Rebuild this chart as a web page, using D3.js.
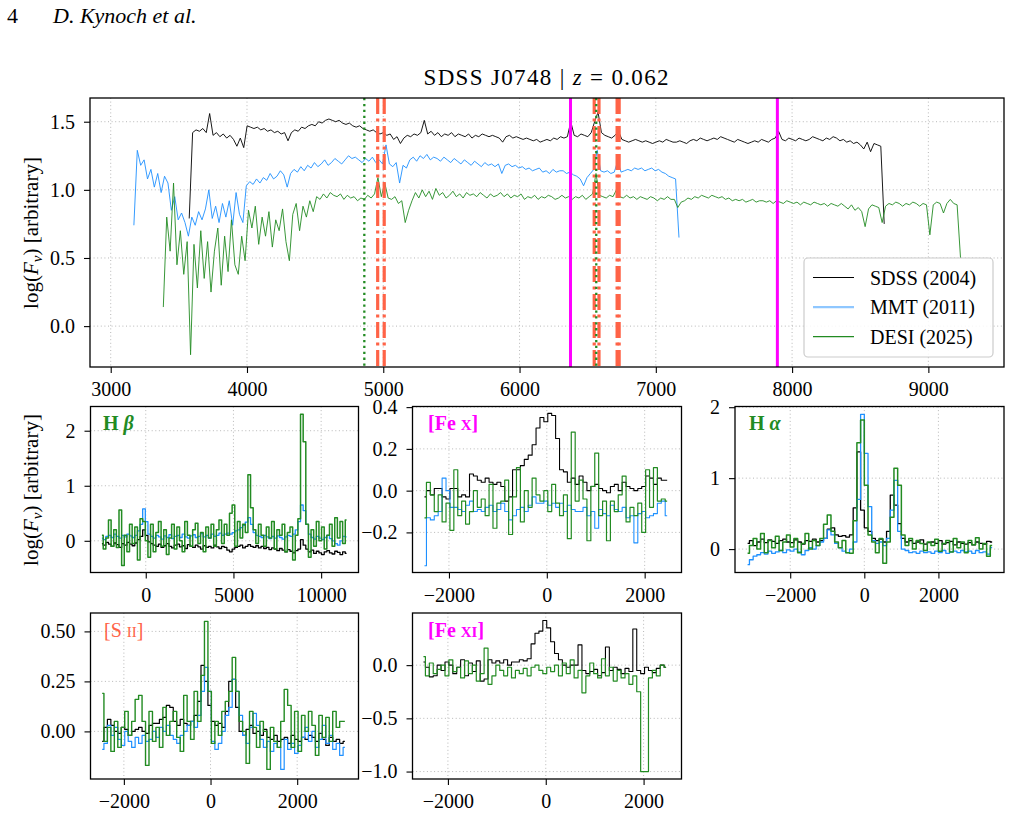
<!DOCTYPE html>
<html>
<head>
<meta charset="utf-8">
<script src="https://cdn.jsdelivr.net/npm/d3@7"></script>
<style>
body { margin: 0; background: #fff; }
text { font-family: "Liberation Serif", "Times New Roman", serif; fill: #000; }
</style>
</head>
<body>
<script>
// ---- main panel spectra (rest wavelength grid: start + step * index) ----
const sdssW0 = 3576, sdssDw = 25
const sdssFlux = [0.79,
  1.42,1.44,1.43,1.45,1.42, 1.56,
  1.40,1.42,1.39,1.41,1.38,1.40,1.37,1.32,1.38,1.31, 1.47,
  1.46,1.45,1.46,1.44,1.45,1.43,1.44,1.42,1.43,1.41,1.42,1.36,
  1.42,1.44,1.43,1.46,1.45,1.47,1.48,1.47,1.50,1.49,1.51,
  1.52,1.51,1.50,1.51,1.49,1.48,1.49,1.47,1.46,1.47,1.45,
  1.44,1.43,1.44,1.42,1.41,1.42,1.40,1.41,1.37, 1.39,1.34,
  1.38,1.40,1.39,1.41,1.40,1.42, 1.51,
  1.41,1.43,1.40,1.42,1.39,1.41,1.40,1.42,1.39,1.41,1.40,
  1.39,1.41,1.38,1.40,1.39,1.41,1.40,1.39,1.40,1.39,1.38,1.35,
  1.39,1.40,1.38,1.39,1.38,1.37,1.38,1.37,1.36,1.37,1.35,1.36,1.37,1.36,1.38,1.37,1.39,1.38,1.39,
  1.50, 1.40,1.39,1.41,1.40,1.39,1.42, 1.50,1.57,1.42, 1.40,1.39,1.38,1.40, 1.43,
  1.37,1.36,1.35,1.36,1.37,1.36,1.35,1.36,1.35,1.34,1.35,1.36,1.35,1.37,1.36,1.35,
  1.35,1.36,1.35,1.34,1.36,1.37,1.36,1.38,1.37,1.36,1.37,1.38,1.37,1.39,1.38,1.37,1.36,1.35,
  1.37,1.36,1.35,1.34,1.35,1.36,1.35,1.37,1.36,1.35,1.37,1.38, 1.43,
  1.37,1.36,1.38,1.37,1.36,1.38,1.37,1.36,1.37,1.39,1.38,1.37,1.36,1.38,1.37,1.39,1.38,1.36,1.37,1.35,
  1.36,1.34,1.35,1.33,1.30,1.35,1.28,1.34,1.33,1.32, 0.75]

const mmtW0 = 3170, mmtDw = 25
const mmtFlux = [0.74,
  1.29,1.18,1.22,1.08,1.15,1.02,1.12,0.98,1.1,1.05,
  0.85,0.95,0.78,0.83,0.76,0.66,0.8,0.74,0.84,
  0.78,0.86,1.0,0.79,0.88,0.76,0.9,0.8,0.92,0.74,0.98,0.82,0.76,
  1.03,
  1.06,1.04,1.08,1.05,1.09,1.07,1.12,1.08,1.1,1.14,1.11, 1.02,
  1.12,1.15,1.13,1.17,1.14,1.18,1.16,1.2,1.17,1.19,1.22,1.18,1.2,1.23,1.21,1.19,1.22,1.25,1.23,1.24,1.22,
  1.2,1.23,1.21,1.24,1.2,1.22,1.19, 1.33,
  1.19,1.17,1.2,1.05,1.18,1.16,
  1.22,1.24,1.21,1.25,1.23,1.26,1.22,1.24,
  1.23,1.21,1.24,1.22,1.2,1.23,1.21,1.19,1.22,1.2,1.18,1.21,1.19,1.17,1.2,1.18,1.19,1.17,1.19,
  1.12,
  1.18,1.19,1.17,1.18,1.16,1.17,1.15,1.16,1.14,1.15,1.16,1.13,1.14,1.12,1.15,1.13,1.14,
  1.14,1.12,1.13,1.11,1.1,1.08,1.03,1.09,1.12,1.15,
  1.29, 1.14,1.13,1.14,1.12,1.13, 1.21,
  1.13,1.14,1.15,1.14,1.16,1.15,1.16,1.14,1.15,1.16,1.14,1.15,1.13,1.12,1.1,
  1.09,1.08, 0.65]

const desiW0 = 3386, desiDw = 25
const desiFlux = [0.14,
  0.8,0.55,1.05,0.45,0.7,0.38,0.62, -0.21,
  0.6,0.28,0.7,0.35,0.62,0.25,0.55,0.72,0.3,0.66,0.4,0.78,0.45,0.38,0.66,0.48,
  0.85,0.72,0.88,0.6,0.8,0.66,0.84,0.58,0.78,0.7,
  0.86,0.62,0.48,0.82,0.9,0.7,0.88,0.8,0.92,0.84,
  0.95,0.93,0.97,0.94,0.98,0.96,0.95,0.97,0.93,0.96,0.94,0.95,0.92,0.94,
  0.93, 0.96,0.94,0.97,1.09,0.95,1.05,
  0.94,0.93,0.95,0.9,0.92,0.76,0.85,
  0.92,0.98,0.94,1.0,0.95,0.99,0.93,1.01,0.96,0.98,0.94,
  0.96,0.99,0.95,0.97,0.94,0.98,0.96,0.97,0.95,0.98,
  0.96,0.94,0.97,0.95,0.96,0.98,0.95,0.97,0.94,0.96,
  0.95,0.97,0.93,0.95,0.94,0.96,0.93,0.95,0.94,0.96,
  0.95,0.93,0.94,0.96,0.94,0.95,0.93,0.95,0.94,0.96,
  0.93,0.95,0.97,
  1.12, 0.96,0.95,0.94,0.96,0.95, 1.0,
  0.95,0.94,0.96,0.94,0.95,0.93,0.95,0.94,0.93,0.95,0.94,0.92,0.94,0.93,0.95,0.93,
  0.93,0.87,0.91,
  0.92,0.94,0.93,0.95,0.94,0.96,0.95,0.94,0.96,0.95,0.94,0.95,0.93,0.94,0.92,0.93,0.92,0.93,0.91,0.92,0.93,0.91,0.92,
  0.92,0.91,0.92,0.9,0.92,0.91,0.9,0.92,0.91,0.9,0.91,0.89,0.91,0.9,0.89,0.91,0.9,0.89,0.9,0.88,0.9,0.89,0.88,0.9,
  0.88,0.86,0.89,0.85,0.87,0.84,0.73,0.86,0.89,0.88,0.87, 0.76,
  0.88,0.9,0.89,0.91,0.9,0.88,0.9,0.89,0.91,0.9,0.88,0.9,0.89,0.67,0.89,0.91,0.9,0.83,0.9,0.93,0.9,0.89,
  0.5]

// emission line markers (rest wavelength, Angstrom)
const balmerLines = [4861, 6563]
const forbiddenLines = [4959, 5007, 6548, 6583, 6716, 6731]
const coronalLines = [6374, 7892]

const seriesNames = ["SDSS (2004)", "MMT (2011)", "DESI (2025)"]

// ---- zoomed line profiles (velocity grid: start + step * index, km/s) ----
const hbV0 = -2500, hbDv = 150
const hbSdss = [-0.05,-0.08,-0.03,-0.06,-0.1,-0.04,-0.07,-0.12,-0.05,-0.08,-0.03,-0.06,-0.09,-0.04,0.02,0.08,
  0.2,0.1,-0.02,
  -0.05,-0.08,-0.1,-0.06,-0.12,-0.09,-0.05,-0.1,-0.13,-0.08,-0.06,-0.11,-0.09,-0.14,-0.07,-0.1,-0.12,-0.08,-0.11,-0.15,-0.09,-0.12,-0.1,-0.13,-0.08,-0.11,-0.14,
  -0.1,-0.12,-0.17,-0.2,-0.15,-0.12,-0.1,-0.08,-0.13,-0.1,-0.07,-0.1,-0.12,-0.09,-0.13,
  -0.1,-0.14,-0.12,-0.16,-0.13,-0.15,-0.18,-0.14,-0.17,-0.2,-0.16,-0.19,-0.22,-0.18,-0.15,
  0.02,-0.08,
  -0.15,-0.2,-0.17,-0.23,-0.19,-0.22,-0.25,-0.2,-0.18,-0.22,-0.24,-0.19,-0.21,-0.25,-0.2,-0.23]
const hbMmt = [0.05,0.02,0.08,0.1,0.06,0.12,0.08,0.05,0.1,0.07,0.12,0.09,0.06,0.1,0.18,0.3,
  0.58,0.35,0.12,
  0.08,0.05,0.1,0.07,0.03,0.09,0.06,0.11,0.04,0.08,0.1,0.06,0.12,0.07,0.05,0.09,0.11,0.06,0.08,0.13,0.07,0.1,0.05,0.12,0.08,0.1,0.14,
  0.1,0.12,0.14,0.12,0.15,0.18,0.2,0.24,0.28,0.34,0.42,0.3,0.15,0.1,0.08,
  0.06,0.1,0.07,0.04,0.08,0.05,0.09,0.06,0.03,0.07,0.1,0.08,0.12,0.2,0.35,
  0.65,0.55,
  0.3,0.12,0.06,0.03,0.08,0.05,0.02,0.06,0.1,0.04,0.0,-0.05,-0.08,0.0,0.08,0.07]
const hbDesi = [0.1,-0.15,0.05,0.38,-0.1,0.2,-0.12,0.56,-0.45,0.1,-0.2,0.3,-0.05,0.25,-0.35,0.4,
  0.35,0.0,-0.3,
  0.3,-0.2,0.15,0.35,-0.1,0.2,-0.25,0.05,0.3,-0.15,0.25,0.0,-0.2,0.35,0.1,-0.1,0.2,0.32,-0.05,0.15,-0.2,0.25,0.05,0.3,-0.1,0.2,0.38,
  -0.05,0.3,0.1,0.5,0.65,-0.1,0.35,0.05,0.3,0.15,1.2,0.6,0.2,-0.05,0.3,
  0.1,-0.1,0.25,0.05,0.35,-0.15,0.2,0.1,0.3,-0.2,0.15,0.25,-0.35,0.1,0.4,
  2.3,1.8,
  0.3,-0.3,0.2,-0.1,0.35,0.0,0.25,-0.15,0.1,0.3,-0.1,0.42,0.05,0.35,-0.05,0.38]

const fexV0 = -2500, fexDv = 80
const fexSdss = [-0.03,0.0,-0.02,0.01,0.01,-0.03,-0.04,0.01,0.01,-0.03,
  -0.02,-0.03,0.08,0.07,0.05,0.04,0.06,0.04,0.03,0.04,
  0.02,-0.05,-0.03,0.1,0.1,0.12,0.15,0.17,0.22,0.3,
  0.35,0.33,0.37,0.36,0.25,0.1,0.09,0.04,0.06,0.03,
  0.07,0.04,0.0,0.02,0.03,0.01,0.0,-0.01,0.02,0.03,
  0.0,0.04,0.02,0.01,0.0,0.01,0.02,0.07,0.06,0.03,
  0.06,0.05,0.05]
const fexMmt = [-0.36,-0.13,-0.14,-0.12,-0.1,0.06,0.0,-0.08,-0.08,-0.09,
  -0.1,-0.07,-0.05,-0.1,-0.09,-0.1,-0.08,-0.07,-0.1,-0.09,
  -0.06,-0.1,-0.14,-0.12,-0.09,-0.08,-0.1,-0.07,-0.03,-0.06,
  -0.06,-0.05,-0.07,-0.06,-0.08,-0.06,-0.1,-0.07,-0.09,-0.1,
  -0.1,-0.08,-0.12,-0.1,-0.18,-0.09,-0.11,-0.12,-0.07,-0.09,
  -0.1,-0.08,-0.13,-0.12,-0.25,-0.11,-0.1,-0.13,-0.12,-0.11,
  -0.06,-0.05,-0.12]
const fexDesi = [-0.13,0.04,-0.02,-0.1,-0.02,-0.15,-0.06,-0.19,0.1,-0.12,
  -0.05,-0.16,-0.1,0.0,-0.08,-0.04,-0.12,0.03,-0.18,-0.06,
  -0.05,0.05,-0.21,-0.03,0.11,-0.15,0.0,-0.08,0.06,-0.02,
  -0.05,0.0,-0.1,0.03,-0.06,-0.12,-0.02,-0.23,0.28,-0.05,
  0.05,-0.04,-0.24,0.02,0.18,-0.12,-0.05,-0.24,-0.05,-0.1,
  -0.02,0.07,-0.15,-0.08,-0.12,-0.06,-0.2,0.1,-0.08,0.11,
  -0.05,-0.04,-0.05]

const haV0 = -3150, haDv = 100
const haSdss = [0.08,0.12,0.05,0.1,0.14,0.09,0.13,0.11,0.08,0.12,
  0.14,0.1,0.09,0.13,0.1,0.07,0.12,0.11,0.14,0.1,
  0.12,0.15,0.28,0.3,0.2,0.18,0.19,0.17,0.2,0.58,
  1.37,0.55,0.3,0.25,0.15,0.12,0.14,0.1,0.25,0.76,
  0.62,0.36,0.15,0.1,0.12,0.08,0.1,0.13,0.07,0.09,
  0.1,0.08,0.12,0.07,0.09,0.11,0.06,0.1,0.08,0.07,
  0.09,0.06,0.1,0.08,0.07,0.11,0.1]
const haMmt = [-0.22,-0.15,-0.1,-0.08,-0.05,-0.07,-0.03,-0.06,-0.04,-0.02,
  -0.05,-0.01,-0.03,0.0,-0.04,-0.08,-0.02,0.02,0.0,0.05,
  0.1,0.15,0.27,0.2,0.08,0.02,-0.03,-0.05,0.0,0.1,
  0.7,1.9,1.35,0.6,0.12,0.08,0.1,0.05,0.15,0.55,
  0.97,0.25,0.0,-0.02,-0.05,-0.04,-0.06,-0.03,-0.05,-0.04,
  -0.06,-0.03,-0.05,-0.02,-0.06,-0.04,-0.03,-0.05,-0.02,-0.04,
  -0.03,-0.06,-0.02,-0.05,-0.04,-0.07,0.02]
const haDesi = [-0.06,0.05,0.15,0.0,0.22,-0.05,0.12,0.02,0.18,-0.02,
  0.1,0.2,0.03,0.15,-0.05,0.08,0.22,0.0,0.12,0.05,
  0.15,0.35,0.48,0.25,0.1,0.02,0.12,-0.05,-0.06,0.4,
  1.5,1.82,0.9,0.2,0.1,-0.05,0.15,-0.2,0.1,0.45,
  1.14,0.9,0.2,0.05,0.15,0.0,0.12,0.08,-0.02,0.1,
  0.05,0.14,-0.03,0.08,0.12,-0.04,0.15,0.02,0.1,-0.05,
  0.12,0.06,0.16,0.0,0.08,-0.1,0.05]

const siiV0 = -2500, siiDv = 80
const siiSdss = [-0.05,0.02,0.06,0.03,0.0,-0.01,0.02,0.01,-0.02,0.0,
  0.01,0.02,0.0,-0.01,0.03,0.04,0.04,0.06,0.07,0.13,
  0.12,0.05,0.03,0.06,0.04,0.03,0.05,0.08,0.15,0.33,
  0.25,0.13,0.05,0.03,0.04,0.02,0.1,0.25,0.26,0.12,
  0.0,-0.02,0.01,0.03,-0.01,0.0,-0.02,0.01,-0.03,-0.04,
  -0.02,-0.05,-0.04,-0.03,-0.06,-0.02,-0.04,-0.05,-0.03,-0.04,
  -0.02,-0.03,-0.05,-0.01,-0.04,-0.07,-0.03,-0.05,-0.04,-0.06,-0.05]
const siiMmt = [-0.09,-0.06,0.03,-0.02,0.02,-0.04,-0.07,0.0,-0.05,-0.08,
  -0.03,-0.06,-0.02,-0.05,-0.04,0.0,-0.03,0.02,0.0,0.03,
  -0.02,-0.04,-0.06,-0.02,0.0,0.03,0.05,0.02,0.08,0.2,
  0.32,0.2,-0.05,-0.09,-0.06,0.0,0.08,0.12,0.26,0.2,
  0.08,-0.02,-0.06,0.02,0.09,0.03,-0.04,-0.08,-0.05,-0.1,
  -0.06,-0.08,-0.19,-0.04,-0.09,-0.06,-0.11,-0.07,-0.03,0.02,
  -0.05,0.0,-0.08,-0.04,0.03,-0.06,-0.02,-0.09,-0.06,-0.12,-0.08]
const siiDesi = [0.19,-0.05,0.02,-0.1,0.05,-0.08,0.02,0.1,-0.02,0.05,
  0.16,0.18,0.05,-0.17,0.1,-0.05,0.02,-0.08,0.12,-0.02,
  0.05,0.1,-0.03,-0.1,0.18,0.05,-0.04,0.2,0.05,0.28,
  0.55,0.2,-0.06,0.05,-0.02,0.1,0.15,0.2,0.37,0.2,
  0.05,0.0,-0.16,0.1,0.02,-0.08,0.05,0.0,-0.19,0.02,
  -0.05,-0.08,0.05,0.21,0.13,-0.08,0.1,-0.1,0.08,0.0,
  0.1,0.03,-0.12,0.08,-0.03,0.07,-0.05,0.1,0.02,0.05,0.05]

const fexiV0 = -2500, fexiDv = 80
const fexiSdss = [0.03,-0.02,-0.11,-0.1,0.0,-0.05,0.03,0.0,-0.08,-0.02,
  0.05,-0.1,0.02,-0.06,0.04,-0.15,-0.13,0.05,0.02,0.04,
  0.02,0.05,0.0,0.03,0.03,0.05,0.04,0.06,0.2,0.3,
  0.32,0.42,0.35,0.22,0.11,0.05,0.0,-0.02,0.0,0.0,
  0.19,-0.05,-0.08,-0.06,-0.04,-0.1,-0.07,0.17,-0.05,-0.02,
  -0.04,-0.08,-0.03,-0.06,0.34,-0.05,-0.08,-0.02,-0.05,-0.07,
  -0.03,0.0,-0.02]
const fexiDesi = [0.08,-0.1,0.02,-0.08,-0.04,0.0,-0.1,0.05,-0.06,-0.02,
  -0.12,0.04,-0.08,0.0,-0.15,-0.08,0.16,-0.18,-0.1,0.0,
  -0.05,-0.1,-0.02,-0.12,-0.05,-0.08,-0.03,-0.1,-0.02,0.0,
  -0.05,-0.08,-0.02,-0.06,0.0,-0.1,0.02,-0.08,0.05,-0.12,
  -0.05,-0.26,-0.1,0.02,-0.08,-0.12,0.06,-0.1,-0.02,-0.15,
  -0.05,-0.12,-0.08,-0.18,-0.1,-0.25,-1.0,-1.0,-0.12,-0.05,
  -0.1,0.0,-0.02]

const colSdss = "#000000", colMmt = "#1e90ff", colDesi = "#228b22"
const colRed = "#ff6347", colMag = "#ff00ff"

const svg = d3.select("body").append("svg")
    .attr("width", 1011)
    .attr("height", 815)

function pts(vals, x0, dx) {
    return vals.map((v, i) => [x0 + dx * i, v])
}

let clipN = 0

// one set of axes: grid, clip, ticks, frame
function makeAxes(box, xdom, ydom, xticks, yticks, xfmt, yfmt) {
    const x = d3.scaleLinear().domain(xdom).range([box.x0, box.x1])
    const y = d3.scaleLinear().domain(ydom).range([box.y1, box.y0])
    const g = svg.append("g")

    const grid = g.append("g").attr("stroke", "#b0b0b0").attr("stroke-width", 0.9)
        .attr("stroke-dasharray", "1,2.6")
    grid.selectAll(".gx").data(xticks).enter().append("line")
        .attr("x1", d => x(d)).attr("x2", d => x(d))
        .attr("y1", box.y0).attr("y2", box.y1)
    grid.selectAll(".gy").data(yticks).enter().append("line")
        .attr("y1", d => y(d)).attr("y2", d => y(d))
        .attr("x1", box.x0).attr("x2", box.x1)

    const id = "clip" + (clipN++)
    svg.append("clipPath").attr("id", id).append("rect")
        .attr("x", box.x0).attr("y", box.y0)
        .attr("width", box.x1 - box.x0).attr("height", box.y1 - box.y0)
    const plot = g.append("g").attr("clip-path", "url(#" + id + ")")
    const over = g.append("g")

    g.append("rect")
        .attr("x", box.x0).attr("y", box.y0)
        .attr("width", box.x1 - box.x0).attr("height", box.y1 - box.y0)
        .attr("fill", "none").attr("stroke", "#000").attr("stroke-width", 1.3)

    const ax = g.append("g").attr("transform", "translate(0," + box.y1 + ")")
        .call(d3.axisBottom(x).tickValues(xticks).tickFormat(d3.format(xfmt))
            .tickSize(6).tickPadding(8.8))
    const ay = g.append("g").attr("transform", "translate(" + box.x0 + ",0)")
        .call(d3.axisLeft(y).tickValues(yticks).tickFormat(d3.format(yfmt))
            .tickSize(6).tickPadding(9))
    for (const a of [ax, ay]) {
        a.select(".domain").remove()
        a.attr("font-family", null).attr("font-size", null)
        a.selectAll("line").attr("stroke", "#000").attr("stroke-width", 1.1)
        a.selectAll("text").style("font-size", "20px")
    }
    return { x, y, plot, over }
}

function drawLine(ax, data, color, width, step) {
    const line = d3.line()
        .x(d => ax.x(d[0]))
        .y(d => ax.y(d[1]))
    if (step) line.curve(d3.curveStep)
    ax.plot.append("path")
        .attr("d", line(data))
        .attr("fill", "none")
        .attr("stroke", color)
        .attr("stroke-width", width)
        .attr("stroke-linejoin", "round")
}

// ---- header and title ----
svg.append("text").attr("x", 7).attr("y", 23).style("font-size", "22px").text("4")
svg.append("text").attr("x", 53).attr("y", 23).style("font-size", "22px")
    .style("font-style", "italic").text("D. Kynoch et al.")

const title = svg.append("text").attr("x", 546).attr("y", 85)
    .attr("text-anchor", "middle").style("font-size", "23px")
    .attr("textLength", 245).attr("lengthAdjust", "spacing")
title.append("tspan").text("SDSS J0748  |  ")
title.append("tspan").style("font-style", "italic").text("z")
title.append("tspan").text(" = 0.062")

// ---- main panel ----
const main = makeAxes({ x0: 90, x1: 1004, y0: 98, y1: 367 },
    [2848, 9555], [-0.30, 1.674],
    [3000, 4000, 5000, 6000, 7000, 8000, 9000], [0, 0.5, 1, 1.5], "d", ".1f")

drawLine(main, pts(sdssFlux, sdssW0, sdssDw), colSdss, 0.9, false)
drawLine(main, pts(mmtFlux, mmtW0, mmtDw), colMmt, 0.9, false)
drawLine(main, pts(desiFlux, desiW0, desiDw), colDesi, 0.9, false)

main.over.selectAll(".fl").data(forbiddenLines).enter().append("line")
    .attr("x1", d => main.x(d)).attr("x2", d => main.x(d))
    .attr("y1", 98).attr("y2", 367)
    .attr("stroke", colRed).attr("stroke-width", 3.2)
    .attr("stroke-dasharray", "16,4.5,3,4.5")
main.over.selectAll(".cl").data(coronalLines).enter().append("line")
    .attr("x1", d => main.x(d)).attr("x2", d => main.x(d))
    .attr("y1", 98).attr("y2", 367)
    .attr("stroke", colMag).attr("stroke-width", 3)
main.over.selectAll(".bl").data(balmerLines).enter().append("line")
    .attr("x1", d => main.x(d)).attr("x2", d => main.x(d))
    .attr("y1", 98).attr("y2", 367)
    .attr("stroke", colDesi).attr("stroke-width", 2.3)
    .attr("stroke-dasharray", "2.3,3.6")

// legend
const leg = svg.append("g")
leg.append("rect").attr("x", 804).attr("y", 258).attr("width", 189).attr("height", 99)
    .attr("rx", 4).attr("fill", "#fff").attr("fill-opacity", 0.85)
    .attr("stroke", "#cccccc").attr("stroke-width", 1.2)
const legCols = [colSdss, "#8fc7ff", colDesi]
const legW = [1, 2.2, 1.2]
seriesNames.forEach((name, i) => {
    const yy = 277.5 + i * 29.6
    leg.append("line").attr("x1", 813).attr("x2", 854).attr("y1", yy).attr("y2", yy)
        .attr("stroke", legCols[i]).attr("stroke-width", legW[i])
    leg.append("text").attr("x", 870).attr("y", yy + 7).style("font-size", "20px").text(name)
})

function yLabel(cx, cy) {
    const t = svg.append("text")
        .attr("transform", "translate(" + cx + "," + cy + ") rotate(-90)")
        .attr("text-anchor", "middle").style("font-size", "21px")
    t.append("tspan").text("log(")
    t.append("tspan").style("font-style", "italic").text("F")
    t.append("tspan").attr("dy", 4).style("font-size", "15px").style("font-style", "italic").text("ν")
    t.append("tspan").attr("dy", -4).text(")  [arbitrary]")
}
yLabel(38, 233)

// ---- zoomed panels ----
const pHb = makeAxes({ x0: 90.5, x1: 358.5, y0: 406.5, y1: 572.5 },
    [-3150, 12130], [-0.576, 2.44], [0, 5000, 10000], [0, 1, 2], "d", "d")
drawLine(pHb, pts(hbSdss, hbV0, hbDv), colSdss, 1.3, true)
drawLine(pHb, pts(hbMmt, hbV0, hbDv), colMmt, 1.3, true)
drawLine(pHb, pts(hbDesi, hbV0, hbDv), colDesi, 1.5, true)

const pFex = makeAxes({ x0: 412.5, x1: 681.5, y0: 406.5, y1: 572.5 },
    [-2745, 2753], [-0.392, 0.403], [-2000, 0, 2000], [-0.2, 0, 0.2, 0.4], "d", ".1f")
drawLine(pFex, pts(fexSdss, fexV0, fexDv), colSdss, 1.1, true)
drawLine(pFex, pts(fexMmt, fexV0, fexDv), colMmt, 1.1, true)
drawLine(pFex, pts(fexDesi, fexV0, fexDv), colDesi, 1.2, true)

const pHa = makeAxes({ x0: 735, x1: 1004, y0: 406.5, y1: 572.5 },
    [-3490, 3770], [-0.33, 2.01], [-2000, 0, 2000], [0, 1, 2], "d", "d")
drawLine(pHa, pts(haSdss, haV0, haDv), colSdss, 1.3, true)
drawLine(pHa, pts(haMmt, haV0, haDv), colMmt, 1.3, true)
drawLine(pHa, pts(haDesi, haV0, haDv), colDesi, 1.5, true)

const pSii = makeAxes({ x0: 90.5, x1: 358.5, y0: 613, y1: 779 },
    [-2770, 3415], [-0.238, 0.592], [-2000, 0, 2000], [0, 0.25, 0.5], "d", ".2f")
drawLine(pSii, pts(siiSdss, siiV0, siiDv), colSdss, 1.2, true)
drawLine(pSii, pts(siiMmt, siiV0, siiDv), colMmt, 1.2, true)
drawLine(pSii, pts(siiDesi, siiV0, siiDv), colDesi, 1.4, true)

const pFexi = makeAxes({ x0: 412.5, x1: 681.5, y0: 613, y1: 779 },
    [-2724, 2775], [-1.07, 0.49], [-2000, 0, 2000], [-1, -0.5, 0], "d", ".1f")
drawLine(pFexi, pts(fexiSdss, fexiV0, fexiDv), colSdss, 1.1, true)
drawLine(pFexi, pts(fexiDesi, fexiV0, fexiDv), colDesi, 1.2, true)

yLabel(38, 490)

// panel labels
function label(x, y, color, parts, bold) {
    const t = svg.append("text").attr("x", x).attr("y", y)
        .style("font-size", "20px").style("fill", color)
        .style("font-weight", bold ? "bold" : "normal")
    parts.forEach(p => {
        const s = t.append("tspan").text(p[0])
        if (p[1] === "i") s.style("font-style", "italic")
        if (p[1] === "sc") s.style("font-size", "15px")
    })
}
label(103, 430, colDesi, [["H "], ["β", "i"]], true)
label(428, 430, colMag, [["[Fe "], ["X", "sc"], ["]"]], true)
label(749, 430, colDesi, [["H "], ["α", "i"]], true)
label(104, 637, colRed, [["[S "], ["II", "sc"], ["]"]], false)
label(428, 637, colMag, [["[Fe "], ["XI", "sc"], ["]"]], true)
</script>
</body>
</html>
